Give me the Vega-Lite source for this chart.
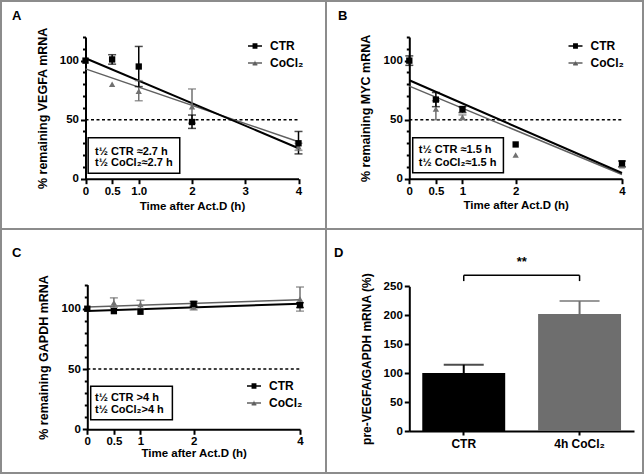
{
"$schema":"https://vega.github.io/schema/vega-lite/v6.json",
"padding":0,"background":"#ffffff","spacing":0,"bounds":"flush","columns":2,
"config":{
 "font":"Liberation Sans",
 "view":{"stroke":"#8c8c8c","strokeWidth":2},
 "axis":{"grid":false,"domainColor":"#000","domainWidth":2,"tickColor":"#000","tickWidth":2,"labelColor":"#000","titleColor":"#000","labelFont":"Liberation Sans","titleFont":"Liberation Sans","labelFontWeight":"bold","titleFontWeight":"bold","labelFontSize":11.5,"titleFontSize":12,"labelFlush":false,"labelOverlap":false,"labelBound":false}
},
"datasets":{
 "pts":[
  {"panel":"A","series":"CoCl₂","t":0,"v":100},{"panel":"A","series":"CoCl₂","t":0.5,"v":80},{"panel":"A","series":"CoCl₂","t":1,"v":74},{"panel":"A","series":"CoCl₂","t":2,"v":61},{"panel":"A","series":"CoCl₂","t":4,"v":27},
  {"panel":"A","series":"CTR","t":0,"v":100},{"panel":"A","series":"CTR","t":0.5,"v":101},{"panel":"A","series":"CTR","t":1,"v":95},{"panel":"A","series":"CTR","t":2,"v":48},{"panel":"A","series":"CTR","t":4,"v":30},
  {"panel":"B","series":"CoCl₂","t":0,"v":100},{"panel":"B","series":"CoCl₂","t":0.5,"v":59},{"panel":"B","series":"CoCl₂","t":1,"v":52},{"panel":"B","series":"CoCl₂","t":2,"v":20},{"panel":"B","series":"CoCl₂","t":4,"v":11},
  {"panel":"B","series":"CTR","t":0,"v":100},{"panel":"B","series":"CTR","t":0.5,"v":67},{"panel":"B","series":"CTR","t":1,"v":59},{"panel":"B","series":"CTR","t":2,"v":29},{"panel":"B","series":"CTR","t":4,"v":13},
  {"panel":"C","series":"CoCl₂","t":0,"v":100},{"panel":"C","series":"CoCl₂","t":0.5,"v":105},{"panel":"C","series":"CoCl₂","t":1,"v":103.5},{"panel":"C","series":"CoCl₂","t":2,"v":101.5},{"panel":"C","series":"CoCl₂","t":4,"v":108},
  {"panel":"C","series":"CTR","t":0,"v":100},{"panel":"C","series":"CTR","t":0.5,"v":98},{"panel":"C","series":"CTR","t":1,"v":97.5},{"panel":"C","series":"CTR","t":2,"v":104},{"panel":"C","series":"CTR","t":4,"v":103}
 ],
 "err":[
  {"panel":"A","series":"CoCl₂","t":1,"lo":66,"hi":83},{"panel":"A","series":"CoCl₂","t":2,"lo":47,"hi":76},{"panel":"A","series":"CoCl₂","t":4,"lo":24,"hi":30},
  {"panel":"A","series":"CTR","t":0.5,"lo":97,"hi":105},{"panel":"A","series":"CTR","t":1,"lo":78,"hi":112},{"panel":"A","series":"CTR","t":2,"lo":42.6,"hi":53.9},{"panel":"A","series":"CTR","t":4,"lo":21,"hi":40},
  {"panel":"B","series":"CoCl₂","t":0.5,"lo":50,"hi":66},{"panel":"B","series":"CoCl₂","t":1,"lo":50,"hi":54},
  {"panel":"B","series":"CTR","t":0,"lo":96,"hi":104},{"panel":"B","series":"CTR","t":0.5,"lo":61,"hi":73},{"panel":"B","series":"CTR","t":1,"lo":56,"hi":61},{"panel":"B","series":"CTR","t":4,"lo":10,"hi":15},
  {"panel":"C","series":"CoCl₂","t":0.5,"lo":101,"hi":109},{"panel":"C","series":"CoCl₂","t":1,"lo":100,"hi":107},{"panel":"C","series":"CoCl₂","t":2,"lo":99,"hi":103},{"panel":"C","series":"CoCl₂","t":4,"lo":98,"hi":118},
  {"panel":"C","series":"CTR","t":2,"lo":102,"hi":106},{"panel":"C","series":"CTR","t":4,"lo":101,"hi":105}
 ],
 "fits":[
  {"panel":"A","series":"CoCl₂","t":0,"fit":93},{"panel":"A","series":"CoCl₂","t":4,"fit":31.3},
  {"panel":"A","series":"CTR","t":0,"fit":102},{"panel":"A","series":"CTR","t":4,"fit":25.8},
  {"panel":"B","series":"CoCl₂","t":0,"fit":78.4},{"panel":"B","series":"CoCl₂","t":4,"fit":3.6},
  {"panel":"B","series":"CTR","t":0,"fit":83.4},{"panel":"B","series":"CTR","t":4,"fit":4.8},
  {"panel":"C","series":"CoCl₂","t":0,"fit":101.4},{"panel":"C","series":"CoCl₂","t":4,"fit":107.5},
  {"panel":"C","series":"CTR","t":0,"fit":98.1},{"panel":"C","series":"CTR","t":4,"fit":104.2}
 ],
 "bars":[
  {"group":"CTR","value":100,"hi":114.5},
  {"group":"4h CoCl₂","value":202,"hi":224.5}
 ]
},
"resolve":{"scale":{"color":"independent","shape":"independent"}},
"concat":[
  {"width":325,"height":228,"resolve":{"axis":{"y":"independent"}},
   "layer":[
   {"layer":[
    {"data":{"values":[{}]},"mark":{"type":"rule","color":"#000","strokeWidth":1.5,"strokeDash":[3,2.5]},
     "encoding":{
      "x":{"datum":0,"type":"quantitative","scale":{"domain":[0,4],"range":[84.5,297.5],"nice":false,"zero":false},
           "axis":{"values":[0,0.5,1,2,3,4],"labelExpr":"datum.value === 1 ? '1.0' : format(datum.value, '~g')","offset":-50.3,"tickSize":5,"labelPadding":2,"title":"Time after Act.D (h)","titlePadding":3,"titleFontSize":11.5}},
      "x2":{"datum":4},
      "y":{"datum":50,"type":"quantitative","scale":{"domain":[0,120],"range":[177.7,36],"nice":false,"zero":false},
           "axis":{"values":[0,50,100],"tickSize":5,"labelPadding":2,"offset":-84.5,"title":"% remaining VEGFA mRNA","titlePadding":10,"titleFontSize":12.5}}
     }},
    {"data":{"values":[{}]},"mark":{"type":"text","align":"left","baseline":"middle","fontSize":13,"fontWeight":"bold","font":"Liberation Sans","color":"#000"},
     "encoding":{"x":{"datum":-1.38},"y":{"datum":137.8},"text":{"value":"A"}}},
    {"data":{"values":[{}]},"mark":{"type":"rect","fill":"#fff","stroke":"#000","strokeWidth":1.5},
     "encoding":{"x":{"datum":0.05},"x2":{"datum":1.77},"y":{"datum":34.6},"y2":{"datum":4.6}}},
    {"data":{"values":[{}]},"mark":{"type":"text","align":"left","baseline":"middle","fontSize":11,"fontWeight":"bold","font":"Liberation Sans","color":"#000"},
     "encoding":{"x":{"datum":0.18},"y":{"datum":22.7},"text":{"value":"t½ CTR ≈2.7 h"}}},
    {"data":{"name":"fits"},"transform":[{"filter":"datum.panel === 'A'"}],"mark":{"type":"line"},
     "encoding":{"x":{"field":"t","type":"quantitative"},"y":{"field":"fit","type":"quantitative"},"detail":{"field":"series"},
      "color":{"condition":{"test":"datum.series === 'CTR'","value":"#000"},"value":"#606060"},
      "strokeWidth":{"condition":{"test":"datum.series === 'CTR'","value":2},"value":1.5}}},
    {"data":{"name":"err"},"transform":[{"filter":"datum.panel === 'A'"}],"mark":{"type":"rule","strokeWidth":1.5},
     "encoding":{"x":{"field":"t","type":"quantitative"},"y":{"field":"lo","type":"quantitative"},"y2":{"field":"hi"},
      "color":{"condition":{"test":"datum.series === 'CTR'","value":"#000"},"value":"#707070"}}},
    {"data":{"name":"err"},"transform":[{"filter":"datum.panel === 'A'"}],"mark":{"type":"tick","orient":"horizontal","size":8,"thickness":1.5},
     "encoding":{"x":{"field":"t","type":"quantitative"},"y":{"field":"lo","type":"quantitative"},
      "color":{"condition":{"test":"datum.series === 'CTR'","value":"#000"},"value":"#707070"}}},
    {"data":{"name":"err"},"transform":[{"filter":"datum.panel === 'A'"}],"mark":{"type":"tick","orient":"horizontal","size":8,"thickness":1.5},
     "encoding":{"x":{"field":"t","type":"quantitative"},"y":{"field":"hi","type":"quantitative"},
      "color":{"condition":{"test":"datum.series === 'CTR'","value":"#000"},"value":"#707070"}}},
    {"data":{"name":"pts"},"transform":[{"filter":"datum.panel === 'A'"}],"mark":{"type":"point","filled":true,"size":40,"opacity":1},
     "encoding":{"x":{"field":"t","type":"quantitative"},"y":{"field":"v","type":"quantitative"},
      "shape":{"condition":{"test":"datum.series === 'CTR'","value":"square"},"value":"triangle-up"},
      "color":{"condition":{"test":"datum.series === 'CTR'","value":"#000"},"value":"#707070"}}},
    {"data":{"name":"pts"},"transform":[{"filter":"datum.panel === 'A'"}],"mark":{"type":"point","filled":false,"opacity":0,"strokeWidth":1.6},
     "encoding":{"x":{"field":"t","type":"quantitative"},"y":{"field":"v","type":"quantitative"},
      "color":{"field":"series","type":"nominal","scale":{"domain":["CTR","CoCl₂"],"range":["#000","#606060"]},
        "legend":{"orient":"none","legendX":246,"legendY":37,"title":null,"padding":0,"symbolSize":196,"symbolStrokeWidth":1.6,"symbolOpacity":1,"labelFontSize":12,"labelFontWeight":"bold","labelFont":"Liberation Sans","labelColor":"#000","labelOffset":7,"rowPadding":3}},
      "shape":{"field":"series","type":"nominal","scale":{"domain":["CTR","CoCl₂"],"range":["M-1,0H1M-0.35,-0.28H0.35M-0.35,-0.09H0.35M-0.35,0.09H0.35M-0.35,0.28H0.35","M-1,0H1M-0.34,0.26H0.34M-0.23,0.09H0.23M-0.12,-0.08H0.12M-0.03,-0.24H0.03"]},
        "legend":{"orient":"none","legendX":246,"legendY":37,"title":null,"padding":0,"symbolSize":196,"symbolStrokeWidth":1.6,"symbolOpacity":1,"labelFontSize":12,"labelFontWeight":"bold","labelFont":"Liberation Sans","labelColor":"#000","labelOffset":7,"rowPadding":3}}}}
   ]},
    {"data":{"values":[{}]},"mark":{"type":"text","align":"left","baseline":"middle","fontSize":11,"fontWeight":"bold","font":"Liberation Sans","color":"#000"},
     "encoding":{"x":{"datum":0.18,"type":"quantitative"},"y":{"datum":12.9,"type":"quantitative","axis":{"values":[10,20,30,40,60,70,80,90,110,120],"labels":false,"domain":false,"tickSize":3,"orient":"left","offset":-84.5,"title":null}},"text":{"value":"t½ CoCl₂≈2.7 h"}}}
   ]},
  {"width":317,"height":228,"resolve":{"axis":{"y":"independent"}},
   "layer":[
   {"layer":[
    {"data":{"values":[{}]},"mark":{"type":"rule","color":"#000","strokeWidth":1.5,"strokeDash":[3,2.5]},
     "encoding":{
      "x":{"datum":0,"type":"quantitative","scale":{"domain":[0,4],"range":[83.3,296],"nice":false,"zero":false},
           "axis":{"values":[0,0.5,1,2,4],"format":"~g","offset":-50.3,"tickSize":5,"labelPadding":2,"title":"Time after Act.D (h)","titlePadding":2,"titleFontSize":11.5}},
      "x2":{"datum":4},
      "y":{"datum":50,"type":"quantitative","scale":{"domain":[0,120],"range":[177.7,36],"nice":false,"zero":false},
           "axis":{"values":[0,50,100],"tickSize":5,"labelPadding":2,"offset":-83.3,"title":"% remaining MYC mRNA","titlePadding":11,"titleFontSize":12.5}}
     }},
    {"data":{"values":[{}]},"mark":{"type":"text","align":"left","baseline":"middle","fontSize":13,"fontWeight":"bold","font":"Liberation Sans","color":"#000"},
     "encoding":{"x":{"datum":-1.339},"y":{"datum":137.8},"text":{"value":"B"}}},
    {"data":{"values":[{}]},"mark":{"type":"rect","fill":"#fff","stroke":"#000","strokeWidth":1.5},
     "encoding":{"x":{"datum":0.064},"x2":{"datum":1.77},"y":{"datum":34.6},"y2":{"datum":5.1}}},
    {"data":{"values":[{}]},"mark":{"type":"text","align":"left","baseline":"middle","fontSize":11,"fontWeight":"bold","font":"Liberation Sans","color":"#000"},
     "encoding":{"x":{"datum":0.18},"y":{"datum":24},"text":{"value":"t½ CTR ≈1.5 h"}}},
    {"data":{"name":"fits"},"transform":[{"filter":"datum.panel === 'B'"}],"mark":{"type":"line"},
     "encoding":{"x":{"field":"t","type":"quantitative"},"y":{"field":"fit","type":"quantitative"},"detail":{"field":"series"},
      "color":{"condition":{"test":"datum.series === 'CTR'","value":"#000"},"value":"#606060"},
      "strokeWidth":{"condition":{"test":"datum.series === 'CTR'","value":2},"value":1.5}}},
    {"data":{"name":"err"},"transform":[{"filter":"datum.panel === 'B'"}],"mark":{"type":"rule","strokeWidth":1.5},
     "encoding":{"x":{"field":"t","type":"quantitative"},"y":{"field":"lo","type":"quantitative"},"y2":{"field":"hi"},
      "color":{"condition":{"test":"datum.series === 'CTR'","value":"#000"},"value":"#707070"}}},
    {"data":{"name":"err"},"transform":[{"filter":"datum.panel === 'B'"}],"mark":{"type":"tick","orient":"horizontal","size":8,"thickness":1.5},
     "encoding":{"x":{"field":"t","type":"quantitative"},"y":{"field":"lo","type":"quantitative"},
      "color":{"condition":{"test":"datum.series === 'CTR'","value":"#000"},"value":"#707070"}}},
    {"data":{"name":"err"},"transform":[{"filter":"datum.panel === 'B'"}],"mark":{"type":"tick","orient":"horizontal","size":8,"thickness":1.5},
     "encoding":{"x":{"field":"t","type":"quantitative"},"y":{"field":"hi","type":"quantitative"},
      "color":{"condition":{"test":"datum.series === 'CTR'","value":"#000"},"value":"#707070"}}},
    {"data":{"name":"pts"},"transform":[{"filter":"datum.panel === 'B'"}],"mark":{"type":"point","filled":true,"size":40,"opacity":1},
     "encoding":{"x":{"field":"t","type":"quantitative"},"y":{"field":"v","type":"quantitative"},
      "shape":{"condition":{"test":"datum.series === 'CTR'","value":"square"},"value":"triangle-up"},
      "color":{"condition":{"test":"datum.series === 'CTR'","value":"#000"},"value":"#707070"}}},
    {"data":{"name":"pts"},"transform":[{"filter":"datum.panel === 'B'"}],"mark":{"type":"point","filled":false,"opacity":0,"strokeWidth":1.6},
     "encoding":{"x":{"field":"t","type":"quantitative"},"y":{"field":"v","type":"quantitative"},
      "color":{"field":"series","type":"nominal","scale":{"domain":["CTR","CoCl₂"],"range":["#000","#606060"]},
        "legend":{"orient":"none","legendX":241.5,"legendY":37,"title":null,"padding":0,"symbolSize":196,"symbolStrokeWidth":1.6,"symbolOpacity":1,"labelFontSize":12,"labelFontWeight":"bold","labelFont":"Liberation Sans","labelColor":"#000","labelOffset":7,"rowPadding":3}},
      "shape":{"field":"series","type":"nominal","scale":{"domain":["CTR","CoCl₂"],"range":["M-1,0H1M-0.35,-0.28H0.35M-0.35,-0.09H0.35M-0.35,0.09H0.35M-0.35,0.28H0.35","M-1,0H1M-0.34,0.26H0.34M-0.23,0.09H0.23M-0.12,-0.08H0.12M-0.03,-0.24H0.03"]},
        "legend":{"orient":"none","legendX":241.5,"legendY":37,"title":null,"padding":0,"symbolSize":196,"symbolStrokeWidth":1.6,"symbolOpacity":1,"labelFontSize":12,"labelFontWeight":"bold","labelFont":"Liberation Sans","labelColor":"#000","labelOffset":7,"rowPadding":3}}}}
   ]},
    {"data":{"values":[{}]},"mark":{"type":"text","align":"left","baseline":"middle","fontSize":11,"fontWeight":"bold","font":"Liberation Sans","color":"#000"},
     "encoding":{"x":{"datum":0.18,"type":"quantitative"},"y":{"datum":12.9,"type":"quantitative","axis":{"values":[10,20,30,40,60,70,80,90,110,120],"labels":false,"domain":false,"tickSize":3,"orient":"left","offset":-83.3,"title":null}},"text":{"value":"t½ CoCl₂≈1.5 h"}}}
   ]},
  {"width":325,"height":244,"resolve":{"axis":{"y":"independent"}},
   "layer":[
   {"layer":[
    {"data":{"values":[{}]},"mark":{"type":"rule","color":"#000","strokeWidth":1.5,"strokeDash":[3,2.5]},
     "encoding":{
      "x":{"datum":0,"type":"quantitative","scale":{"domain":[0,4],"range":[86.3,299],"nice":false,"zero":false},
           "axis":{"values":[0,0.5,1,2,4],"format":"~g","offset":-43.7,"tickSize":5,"labelPadding":1,"title":"Time after Act.D (h)","titlePadding":1,"titleFontSize":11.5}},
      "x2":{"datum":4},
      "y":{"datum":50,"type":"quantitative","scale":{"domain":[0,120],"range":[200.3,55.6],"nice":false,"zero":false},
           "axis":{"values":[0,50,100],"tickSize":5,"labelPadding":2,"offset":-86.3,"title":"% remaining GAPDH mRNA","titlePadding":11,"titleFontSize":12.5}}
     }},
    {"data":{"values":[{}]},"mark":{"type":"text","align":"left","baseline":"middle","fontSize":13,"fontWeight":"bold","font":"Liberation Sans","color":"#000"},
     "encoding":{"x":{"datum":-1.414},"y":{"datum":146.2},"text":{"value":"C"}}},
    {"data":{"values":[{}]},"mark":{"type":"rect","fill":"#fff","stroke":"#000","strokeWidth":1.5},
     "encoding":{"x":{"datum":0.064},"x2":{"datum":1.6},"y":{"datum":35.7},"y2":{"datum":8}}},
    {"data":{"values":[{}]},"mark":{"type":"text","align":"left","baseline":"middle","fontSize":11,"fontWeight":"bold","font":"Liberation Sans","color":"#000"},
     "encoding":{"x":{"datum":0.145},"y":{"datum":26},"text":{"value":"t½ CTR >4 h"}}},
    {"data":{"name":"fits"},"transform":[{"filter":"datum.panel === 'C'"}],"mark":{"type":"line"},
     "encoding":{"x":{"field":"t","type":"quantitative"},"y":{"field":"fit","type":"quantitative"},"detail":{"field":"series"},
      "color":{"condition":{"test":"datum.series === 'CTR'","value":"#000"},"value":"#606060"},
      "strokeWidth":{"condition":{"test":"datum.series === 'CTR'","value":2},"value":1.5}}},
    {"data":{"name":"err"},"transform":[{"filter":"datum.panel === 'C'"}],"mark":{"type":"rule","strokeWidth":1.5},
     "encoding":{"x":{"field":"t","type":"quantitative"},"y":{"field":"lo","type":"quantitative"},"y2":{"field":"hi"},
      "color":{"condition":{"test":"datum.series === 'CTR'","value":"#000"},"value":"#707070"}}},
    {"data":{"name":"err"},"transform":[{"filter":"datum.panel === 'C'"}],"mark":{"type":"tick","orient":"horizontal","size":8,"thickness":1.5},
     "encoding":{"x":{"field":"t","type":"quantitative"},"y":{"field":"lo","type":"quantitative"},
      "color":{"condition":{"test":"datum.series === 'CTR'","value":"#000"},"value":"#707070"}}},
    {"data":{"name":"err"},"transform":[{"filter":"datum.panel === 'C'"}],"mark":{"type":"tick","orient":"horizontal","size":8,"thickness":1.5},
     "encoding":{"x":{"field":"t","type":"quantitative"},"y":{"field":"hi","type":"quantitative"},
      "color":{"condition":{"test":"datum.series === 'CTR'","value":"#000"},"value":"#707070"}}},
    {"data":{"name":"pts"},"transform":[{"filter":"datum.panel === 'C'"}],"mark":{"type":"point","filled":true,"size":40,"opacity":1},
     "encoding":{"x":{"field":"t","type":"quantitative"},"y":{"field":"v","type":"quantitative"},
      "shape":{"condition":{"test":"datum.series === 'CTR'","value":"square"},"value":"triangle-up"},
      "color":{"condition":{"test":"datum.series === 'CTR'","value":"#000"},"value":"#707070"}}},
    {"data":{"name":"pts"},"transform":[{"filter":"datum.panel === 'C'"}],"mark":{"type":"point","filled":false,"opacity":0,"strokeWidth":1.6},
     "encoding":{"x":{"field":"t","type":"quantitative"},"y":{"field":"v","type":"quantitative"},
      "color":{"field":"series","type":"nominal","scale":{"domain":["CTR","CoCl₂"],"range":["#000","#606060"]},
        "legend":{"orient":"none","legendX":245,"legendY":149,"title":null,"padding":0,"symbolSize":196,"symbolStrokeWidth":1.6,"symbolOpacity":1,"labelFontSize":12,"labelFontWeight":"bold","labelFont":"Liberation Sans","labelColor":"#000","labelOffset":7,"rowPadding":3}},
      "shape":{"field":"series","type":"nominal","scale":{"domain":["CTR","CoCl₂"],"range":["M-1,0H1M-0.35,-0.28H0.35M-0.35,-0.09H0.35M-0.35,0.09H0.35M-0.35,0.28H0.35","M-1,0H1M-0.34,0.26H0.34M-0.23,0.09H0.23M-0.12,-0.08H0.12M-0.03,-0.24H0.03"]},
        "legend":{"orient":"none","legendX":245,"legendY":149,"title":null,"padding":0,"symbolSize":196,"symbolStrokeWidth":1.6,"symbolOpacity":1,"labelFontSize":12,"labelFontWeight":"bold","labelFont":"Liberation Sans","labelColor":"#000","labelOffset":7,"rowPadding":3}}}}
   ]},
    {"data":{"values":[{}]},"mark":{"type":"text","align":"left","baseline":"middle","fontSize":11,"fontWeight":"bold","font":"Liberation Sans","color":"#000"},
     "encoding":{"x":{"datum":0.145,"type":"quantitative"},"y":{"datum":15.8,"type":"quantitative","axis":{"values":[10,20,30,40,60,70,80,90,110,120],"labels":false,"domain":false,"tickSize":3,"orient":"left","offset":-86.3,"title":null}},"text":{"value":"t½ CoCl₂>4 h"}}}
   ]},
  {"width":317,"height":244,
   "layer":[
    {"data":{"name":"bars"},"mark":{"type":"bar"},
     "encoding":{
      "x":{"field":"group","type":"nominal","sort":null,"scale":{"domain":["CTR","4h CoCl₂"],"range":[83.3,308],"paddingInner":0.284,"paddingOuter":0.112},
           "axis":{"offset":-42,"title":null,"labelAngle":0,"tickSize":4,"labelPadding":3,"labelFontSize":12}},
      "y":{"field":"value","type":"quantitative","scale":{"domain":[0,250],"range":[202,57.3],"nice":false,"zero":true},
           "axis":{"values":[0,50,100,150,200,250],"offset":-83.3,"tickSize":5,"labelPadding":2,"title":"pre-VEGFA/GAPDH mRNA (%)","titlePadding":10,"titleFontSize":12}},
      "color":{"condition":{"test":"datum.group === 'CTR'","value":"#000"},"value":"#6e6e6e"}}},
    {"data":{"values":[{}]},"mark":{"type":"text","align":"left","baseline":"middle","fontSize":13,"fontWeight":"bold","font":"Liberation Sans","color":"#000"},
     "encoding":{"x":{"datum":"CTR","bandPosition":-1.065},"y":{"datum":307.5},"text":{"value":"D"}}},
    {"data":{"name":"bars"},"mark":{"type":"rule","strokeWidth":2},
     "encoding":{"x":{"field":"group","type":"nominal"},"y":{"field":"value","type":"quantitative"},"y2":{"field":"hi"},
      "color":{"condition":{"test":"datum.group === 'CTR'","value":"#000"},"value":"#6e6e6e"}}},
    {"data":{"name":"bars"},"mark":{"type":"tick","orient":"horizontal","size":40,"thickness":2},
     "encoding":{"x":{"field":"group","type":"nominal"},"y":{"field":"hi","type":"quantitative"},
      "color":{"condition":{"test":"datum.group === 'CTR'","value":"#000"},"value":"#6e6e6e"}}},
    {"data":{"values":[{}]},"mark":{"type":"rule","color":"#000","strokeWidth":1.5},
     "encoding":{"x":{"datum":"CTR"},"x2":{"datum":"4h CoCl₂"},"y":{"datum":269}}},
    {"data":{"name":"bars"},"mark":{"type":"rule","color":"#000","strokeWidth":1.5},
     "encoding":{"x":{"field":"group","type":"nominal"},"y":{"datum":269},"y2":{"datum":259}}},
    {"data":{"values":[{}]},"mark":{"type":"text","fontSize":13,"fontWeight":"bold","baseline":"middle","align":"center","color":"#000"},
     "encoding":{"x":{"datum":"CTR","bandPosition":1.2},"y":{"datum":292},"text":{"value":"**"}}}
   ]}
]
}
